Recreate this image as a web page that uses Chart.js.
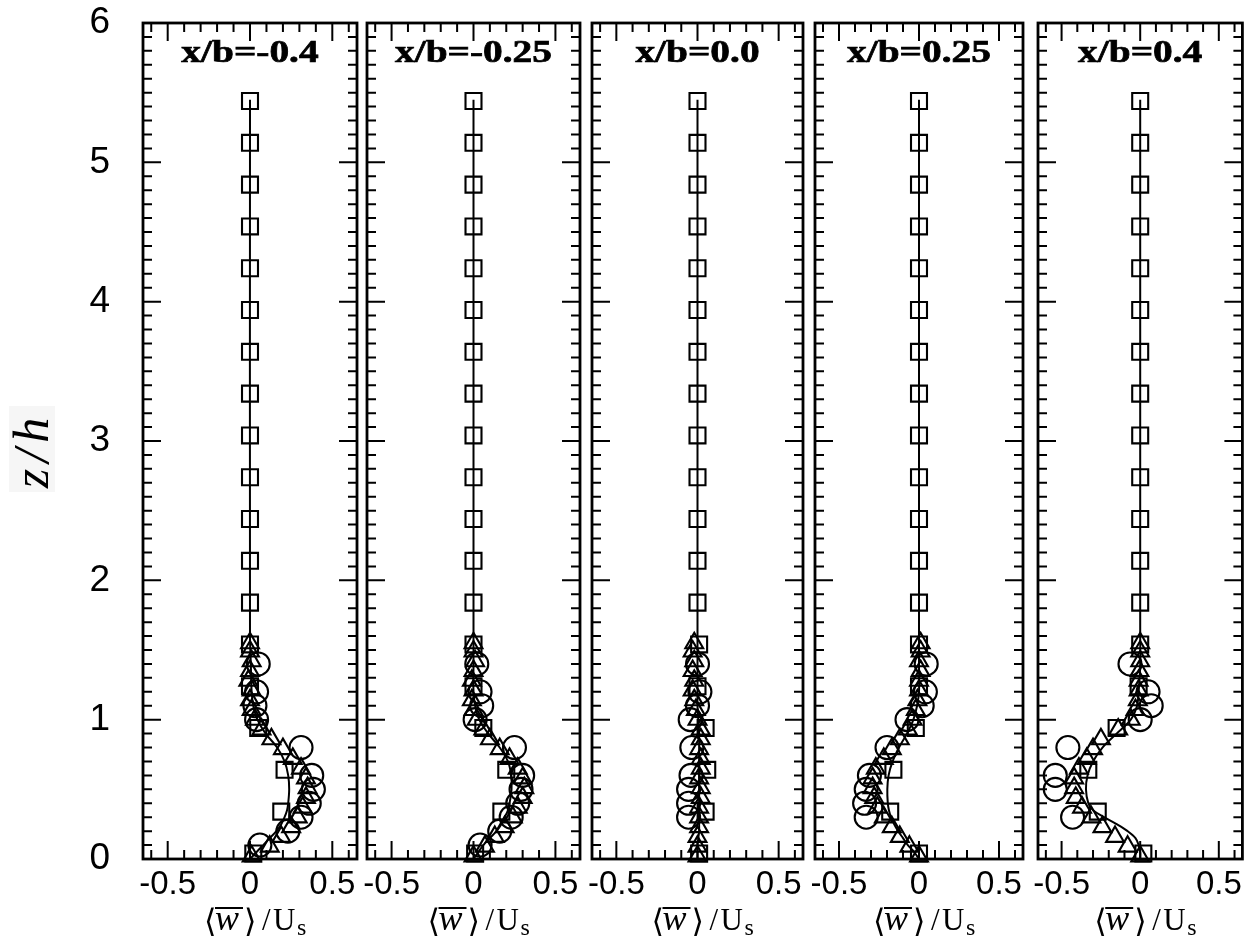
<!DOCTYPE html>
<html><head><meta charset="utf-8">
<script src="https://cdn.jsdelivr.net/npm/chart.js@4.4.1/dist/chart.umd.min.js"></script>
<style>
html,body{margin:0;padding:0;background:#fff;}
#wrap{position:relative;width:1256px;height:945px;overflow:hidden;background:#fff;}
#wrap canvas{position:absolute;left:0;top:0;}
</style></head><body><div id="wrap"></div>
<script>
// ---------- data ----------
const panelTitles = ['x/b=-0.4','x/b=-0.25','x/b=0.0','x/b=0.25','x/b=0.4'];
const xTicks = [-0.5, 0, 0.5];
const yTicks = [0, 1, 2, 3, 4, 5, 6];

const squareZ   = [0.04,0.34,0.64,0.94,1.24,1.54,1.84,2.14,2.44,2.74,3.04,3.34,3.64,3.94,4.24,4.54,4.84,5.14,5.44];
const circleZ   = [0.1,0.2,0.3,0.4,0.5,0.6,0.8,1.0,1.1,1.2,1.4];
const triangleZ = [0.02,0.09,0.16,0.23,0.30,0.37,0.44,0.51,0.58,0.65,0.72,0.79,0.86,0.93,1.00,1.07,1.14,1.21,1.28,1.35,1.42,1.49,1.55];
const lineZ     = [0,0.05,0.1,0.15,0.2,0.25,0.3,0.35,0.4,0.5,0.6,0.7,0.8,0.9,1.0,1.1,1.2,1.4,1.6,5.45];

const sq1 = [0.02,0.19,0.21,0.05,0.0,0.0,0,0,0,0,0,0,0,0,0,0,0,0,0];
const sq2 = [0.01,0.17,0.20,0.06,0.0,0.0,0,0,0,0,0,0,0,0,0,0,0,0,0];
const sq3 = [0.01,0.05,0.06,0.05,0.0,0.01,0,0,0,0,0,0,0,0,0,0,0,0,0];
const sq4 = [0.0,-0.18,-0.16,-0.02,0.0,0.0,0,0,0,0,0,0,0,0,0,0,0,0,0];
const sq5 = [0.02,-0.27,-0.33,-0.15,-0.01,0.0,0,0,0,0,0,0,0,0,0,0,0,0,0];

const ci1 = [0.06,0.23,0.31,0.36,0.385,0.375,0.31,0.04,0.03,0.04,0.05];
const ci2 = [0.04,0.16,0.23,0.27,0.29,0.30,0.25,0.01,0.05,0.04,0.02];
const ci3 = [null,null,-0.055,-0.055,-0.055,-0.04,-0.035,-0.045,0.0,0.015,0.0];
const ci4 = [null,null,-0.33,-0.34,-0.33,-0.31,-0.20,-0.075,0.02,0.04,0.045];
const ci5 = [null,null,-0.43,null,-0.54,-0.54,-0.46,0.0,0.07,0.05,-0.065];

const tr1 = [0.01,0.12,0.19,0.25,0.29,0.32,0.34,0.35,0.34,0.31,0.26,0.20,0.13,0.07,0.03,0.01,0.0,0.01,-0.01,0.0,0.01,0.0,0.0];
const tr2 = [0.0,0.07,0.13,0.19,0.24,0.27,0.30,0.31,0.30,0.27,0.22,0.16,0.10,0.06,0.02,0.0,-0.01,0.0,-0.01,0.0,0.01,0.0,0.0];
const tr3 = [0.0,0.0,0.0,0.01,0.01,0.01,0.02,0.02,0.01,0.02,0.02,0.01,0.02,0.02,0.0,-0.01,-0.02,-0.03,-0.02,-0.03,-0.02,-0.03,-0.02];
const tr4 = [0.0,-0.06,-0.12,-0.17,-0.22,-0.26,-0.28,-0.29,-0.29,-0.27,-0.22,-0.17,-0.12,-0.07,-0.04,-0.02,-0.01,0.0,0.0,0.01,0.0,0.01,0.01];
const tr5 = [0.0,-0.08,-0.16,-0.24,-0.31,-0.37,-0.41,-0.42,-0.42,-0.39,-0.34,-0.30,-0.25,-0.14,-0.06,-0.03,-0.015,-0.01,-0.01,-0.005,0.0,0.0,0.0];

const ln1 = [0,0.04,0.08,0.12,0.16,0.19,0.21,0.225,0.232,0.238,0.232,0.21,0.165,0.095,0.045,0.02,0.01,0.005,0,0];
const ln2 = [0,0.03,0.06,0.10,0.14,0.17,0.19,0.21,0.22,0.232,0.23,0.21,0.16,0.09,0.035,0.01,0,0,0,0];
const ln3 = [0,0,0,0.005,0.01,0.01,0.01,0.01,0.01,0.01,0.01,0.01,0.01,0.01,0.005,0,0,0,0,0];
const ln4 = [0,-0.03,-0.07,-0.10,-0.13,-0.155,-0.175,-0.188,-0.195,-0.198,-0.19,-0.165,-0.125,-0.075,-0.035,-0.012,0,0,0,0];
const ln5 = [0,0,-0.01,-0.03,-0.08,-0.15,-0.23,-0.30,-0.33,-0.345,-0.335,-0.30,-0.24,-0.15,-0.06,-0.02,-0.01,0,0,0];

const squares = [sq1,sq2,sq3,sq4,sq5];
const circles = [ci1,ci2,ci3,ci4,ci5];
const triangles = [tr1,tr2,tr3,tr4,tr5];
const lines = [ln1,ln2,ln3,ln4,ln5];

// ---------- layout ----------
const W = 1256, H = 945;
const panelLeft  = [143, 367, 592, 815, 1038];
const panelRight = [357, 580, 803, 1023, 1250];
const plotTop = 23, xAxisH = 86;

function pts(zs, xs){
  const out = [];
  zs.forEach((z,k)=>{ if (xs[k] !== null && xs[k] !== undefined) out.push({x:xs[k], y:z}); });
  return out;
}

function decor(i){
  return {
    id:'decor'+i,
    afterDraw(chart){
      const ctx = chart.ctx, a = chart.chartArea, xs = chart.scales.x, ys = chart.scales.y;
      ctx.save();
      ctx.strokeStyle = '#000';
      ctx.lineWidth = 2;
      ctx.beginPath();
      for (let k=-6;k<=6;k++){
        const px = xs.getPixelForValue(k/10);
        const len = (k%5===0) ? 18 : 9;
        ctx.moveTo(px, a.bottom); ctx.lineTo(px, a.bottom-len);
        ctx.moveTo(px, a.top); ctx.lineTo(px, a.top+len);
      }
      for (let k=1;k<60;k++){
        const py = ys.getPixelForValue(k/10);
        const len = (k%10===0) ? 18 : 9;
        ctx.moveTo(a.left, py); ctx.lineTo(a.left+len, py);
        ctx.moveTo(a.right, py); ctx.lineTo(a.right-len, py);
      }
      ctx.stroke();
      ctx.lineWidth = 2.8;
      ctx.strokeRect(a.left, a.top, a.right-a.left, a.bottom-a.top);

      // panel title
      const x0 = xs.getPixelForValue(0);
      ctx.fillStyle = '#000';
      ctx.save();
      ctx.translate(x0, 62);
      ctx.scale(1.27, 1);
      ctx.font = 'bold 31px "Liberation Serif", serif';
      ctx.textAlign = 'center';
      ctx.textBaseline = 'alphabetic';
      ctx.lineWidth = 0.7;
      ctx.fillText(panelTitles[i], 0, 0);
      ctx.strokeText(panelTitles[i], 0, 0);
      ctx.restore();

      // x-axis title  <w̄> / U_s
      const base = 930;
      ctx.textAlign = 'left';
      ctx.textBaseline = 'alphabetic';
      ctx.font = '32px "DejaVu Serif", "DejaVu Sans", serif';
      ctx.fillText('\u27E8', x0-46, base+2);
      ctx.font = 'italic 36px "Liberation Serif", serif';
      ctx.fillText('w', x0-35, base);
      ctx.lineWidth = 2;
      ctx.beginPath(); ctx.moveTo(x0-35, 908); ctx.lineTo(x0-7, 908); ctx.stroke();
      ctx.font = '32px "DejaVu Serif", "DejaVu Sans", serif';
      ctx.fillText('\u27E9', x0-6, base+2);
      ctx.font = '31px "Liberation Serif", serif';
      ctx.fillText('/', x0+12, base);
      ctx.fillText('U', x0+23, base);
      ctx.font = '24px "Liberation Serif", serif';
      ctx.fillText('s', x0+47, base+5);

      if (i === 0){
        ctx.fillStyle = '#f6f6f6';
        ctx.fillRect(9, 406, 46, 86);
        ctx.fillStyle = '#000';
        ctx.save();
        ctx.translate(48, 450);
        ctx.rotate(-Math.PI/2);
        ctx.font = 'italic 50px "Liberation Serif", serif';
        try { ctx.letterSpacing = '6px'; } catch(e) {}
        ctx.textAlign = 'center';
        ctx.textBaseline = 'alphabetic';
        ctx.fillText('z/h', 0, 0);
        ctx.restore();
      }
      ctx.restore();
    }
  };
}

const wrap = document.getElementById('wrap');
for (let i=0;i<5;i++){
  const c = document.createElement('canvas');
  c.width = W; c.height = H;
  c.style.width = W+'px'; c.style.height = H+'px';
  wrap.appendChild(c);
  const first = (i===0);
  const ptBase = {showLine:false, borderColor:'#000', backgroundColor:'rgba(0,0,0,0)', pointBorderColor:'#000', pointBackgroundColor:'rgba(0,0,0,0)', pointBorderWidth:2.1, clip:false};
  new Chart(c, {
    type:'scatter',
    data:{ datasets:[
      {data:pts(lineZ, lines[i]), showLine:true, borderColor:'#000', borderWidth:2, pointRadius:0, tension:0.35, fill:false, clip:false},
      Object.assign({data:pts(squareZ, squares[i]), pointStyle:'rect', pointRadius:11.3}, ptBase),
      Object.assign({data:pts(circleZ, circles[i]), pointStyle:'circle', pointRadius:11.5}, ptBase),
      Object.assign({data:pts(triangleZ, triangles[i]), pointStyle:'triangle', pointRadius:10.3}, ptBase)
    ]},
    options:{
      responsive:false, animation:false, devicePixelRatio:1,
      events:[],
      layout:{padding:{left: first?0:panelLeft[i], right: W-panelRight[i], top: plotTop, bottom: 0}},
      plugins:{legend:{display:false}, tooltip:{enabled:false}, title:{display:false}},
      scales:{
        x:{type:'linear', min:-0.65, max:0.65,
           afterBuildTicks: s => { s.ticks = xTicks.map(v=>({value:v})); },
           afterFit: s => { s.height = xAxisH; s.paddingLeft = 0; s.paddingRight = 0; s.paddingTop = 0; s.paddingBottom = 0; },
           ticks:{color:'#000', font:{family:'"Liberation Sans", Arial, sans-serif', size:33}, padding:6, maxRotation:0, autoSkip:false, callback: v => String(v)},
           grid:{display:false, drawTicks:false}, border:{display:false}},
        y:{type:'linear', display:first, min:0, max:6,
           afterBuildTicks: s => { s.ticks = yTicks.map(v=>({value:v})); },
           afterFit: s => { s.width = first ? panelLeft[0] : 0; s.paddingTop = 0; s.paddingBottom = 0; s.paddingLeft = 0; s.paddingRight = 0; },
           ticks:{color:'#000', font:{family:'"Liberation Sans", Arial, sans-serif', size:37}, padding:33, autoSkip:false, callback: v => String(v)},
           grid:{display:false, drawTicks:false}, border:{display:false}}
      }
    },
    plugins:[decor(i)]
  });
}
</script></body></html>
